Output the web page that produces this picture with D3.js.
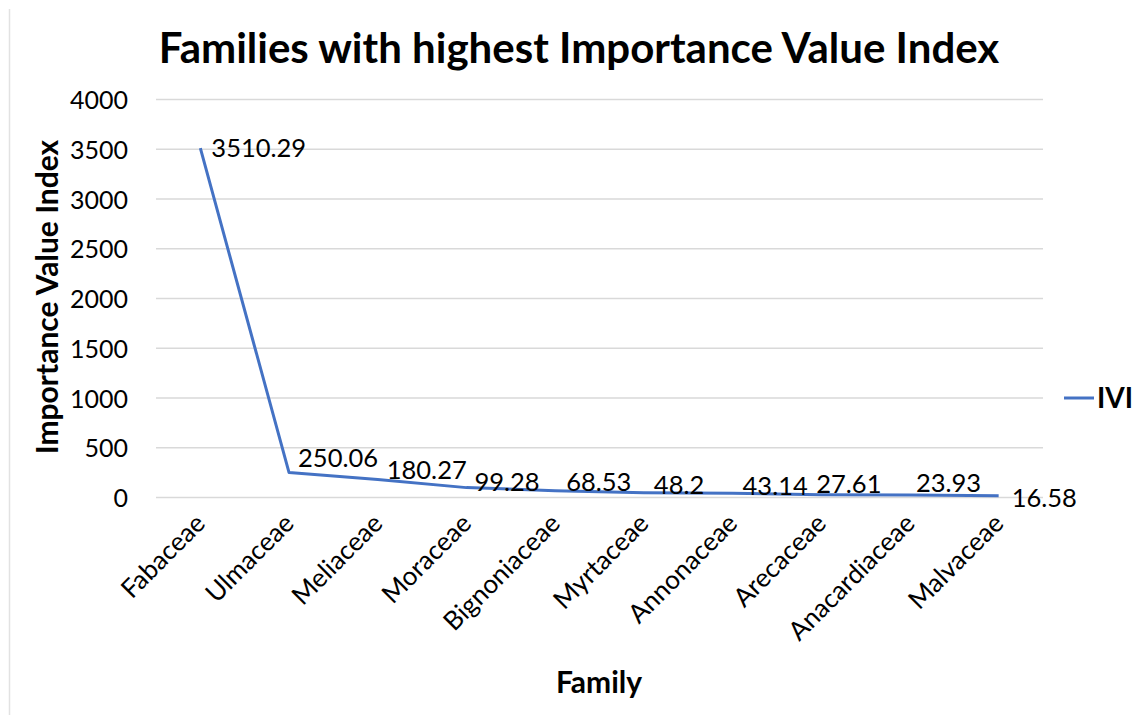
<!DOCTYPE html>
<html>
<head>
<meta charset="utf-8">
<script src="https://cdn.jsdelivr.net/npm/d3@7"></script>
<style>
  body { margin: 0; background: #fff; }
  svg text { font-family: Lato, "Open Sans", sans-serif; fill: #000; }
  .grid line { stroke: #d9d9d9; stroke-width: 1.5; }
  .title { font-weight: bold; font-size: 42px; }
  .axis-title { font-weight: bold; font-size: 30px; }
  .tick-label { font-size: 25px; }
  .x-label { font-size: 26px; }
  .data-label { font-size: 25.5px; }
</style>
</head>
<body>
<svg id="chart" width="1139" height="715"></svg>
<script>
// chart values
var families = ['Fabaceae', 'Ulmaceae', 'Meliaceae', 'Moraceae', 'Bignoniaceae',
  'Myrtaceae', 'Annonaceae', 'Arecaceae', 'Anacardiaceae', 'Malvaceae'];
var ivi = [3510.29, 250.06, 180.27, 99.28, 68.53, 48.2, 43.14, 27.61, 23.93, 16.58];
var labelText = ['3510.29', '250.06', '180.27', '99.28', '68.53', '48.2', '43.14', '27.61', '23.93', '16.58'];
var yTicks = [0, 500, 1000, 1500, 2000, 2500, 3000, 3500, 4000];
var seriesName = 'IVI';

// label nudges (the labels were moved by hand in the original)
var labelDx = [11, 9, 9, 8, 11, 10, 10, -5, 6, 13];
var labelDy = [0, -15, -10, -6, -9, -8, -7, -11, -12, 2];

var svg = d3.select('#chart');

var plotLeft = 156;
var plotRight = 1043;
var plotTop = 99.5;
var plotBottom = 497.5;

var xScale = d3.scaleBand()
  .domain(families)
  .range([plotLeft, plotRight]);

var yScale = d3.scaleLinear()
  .domain([0, 4000])
  .range([plotBottom, plotTop]);

function cx(d) {
  return xScale(d) + xScale.bandwidth() / 2;
}

// faint frame of the chart box
svg.append('line')
  .attr('x1', 9.5).attr('x2', 9.5)
  .attr('y1', 9).attr('y2', 715)
  .attr('stroke', '#e2e2e2').attr('stroke-width', 1.5);

// gridlines
svg.append('g')
  .attr('class', 'grid')
  .selectAll('line')
  .data(yTicks)
  .join('line')
  .attr('x1', plotLeft)
  .attr('x2', plotRight)
  .attr('y1', function(d) { return yScale(d); })
  .attr('y2', function(d) { return yScale(d); });

// y axis labels
var yAxis = d3.axisLeft(yScale).tickValues(yTicks).tickFormat(d3.format('d')).tickSize(0).tickPadding(0);
var yG = svg.append('g')
  .attr('transform', 'translate(128,0)')
  .call(yAxis);
yG.select('.domain').remove();
yG.attr('font-family', null).attr('font-size', null);
yG.selectAll('text')
  .attr('class', 'tick-label')
  .attr('dy', '0.36em');

// x axis labels
var xAxis = d3.axisBottom(xScale).tickSize(0).tickPadding(0);
var xG = svg.append('g')
  .attr('transform', 'translate(0,' + plotBottom + ')')
  .call(xAxis);
xG.select('.domain').remove();
xG.attr('font-family', null).attr('font-size', null);
xG.selectAll('text')
  .attr('class', 'x-label')
  .attr('text-anchor', 'end')
  .attr('y', 0)
  .attr('dy', '0.35em')
  .attr('transform', 'translate(0,21) rotate(-45)');

// the series line
var line = d3.line()
  .x(function(d, i) { return cx(families[i]); })
  .y(function(d) { return yScale(d); });

svg.append('path')
  .datum(ivi)
  .attr('d', line)
  .attr('fill', 'none')
  .attr('stroke', '#4472C4')
  .attr('stroke-width', 3)
  .attr('stroke-linejoin', 'round');

// data labels
svg.append('g')
  .selectAll('text')
  .data(ivi)
  .join('text')
  .attr('class', 'data-label')
  .attr('x', function(d, i) { return cx(families[i]) + labelDx[i]; })
  .attr('y', function(d, i) { return yScale(d) + labelDy[i]; })
  .attr('dy', '0.36em')
  .text(function(d, i) { return labelText[i]; });

// title
svg.append('text')
  .attr('class', 'title')
  .attr('x', 579)
  .attr('y', 63)
  .attr('text-anchor', 'middle')
  .text('Families with highest Importance Value Index');

// axis titles
svg.append('text')
  .attr('class', 'axis-title')
  .attr('transform', 'translate(58,297) rotate(-90)')
  .attr('text-anchor', 'middle')
  .text('Importance Value Index');

svg.append('text')
  .attr('class', 'axis-title')
  .attr('x', 599)
  .attr('y', 693)
  .attr('text-anchor', 'middle')
  .text('Family');

// legend
var legend = svg.append('g').attr('transform', 'translate(1064,398)');
legend.append('line')
  .attr('x1', 0).attr('x2', 30)
  .attr('stroke', '#4472C4')
  .attr('stroke-width', 3);
legend.append('text')
  .attr('x', 33)
  .attr('dy', '0.36em')
  .style('font-weight', 'bold')
  .style('font-size', '28px')
  .text(seriesName);
</script>
</body>
</html>
